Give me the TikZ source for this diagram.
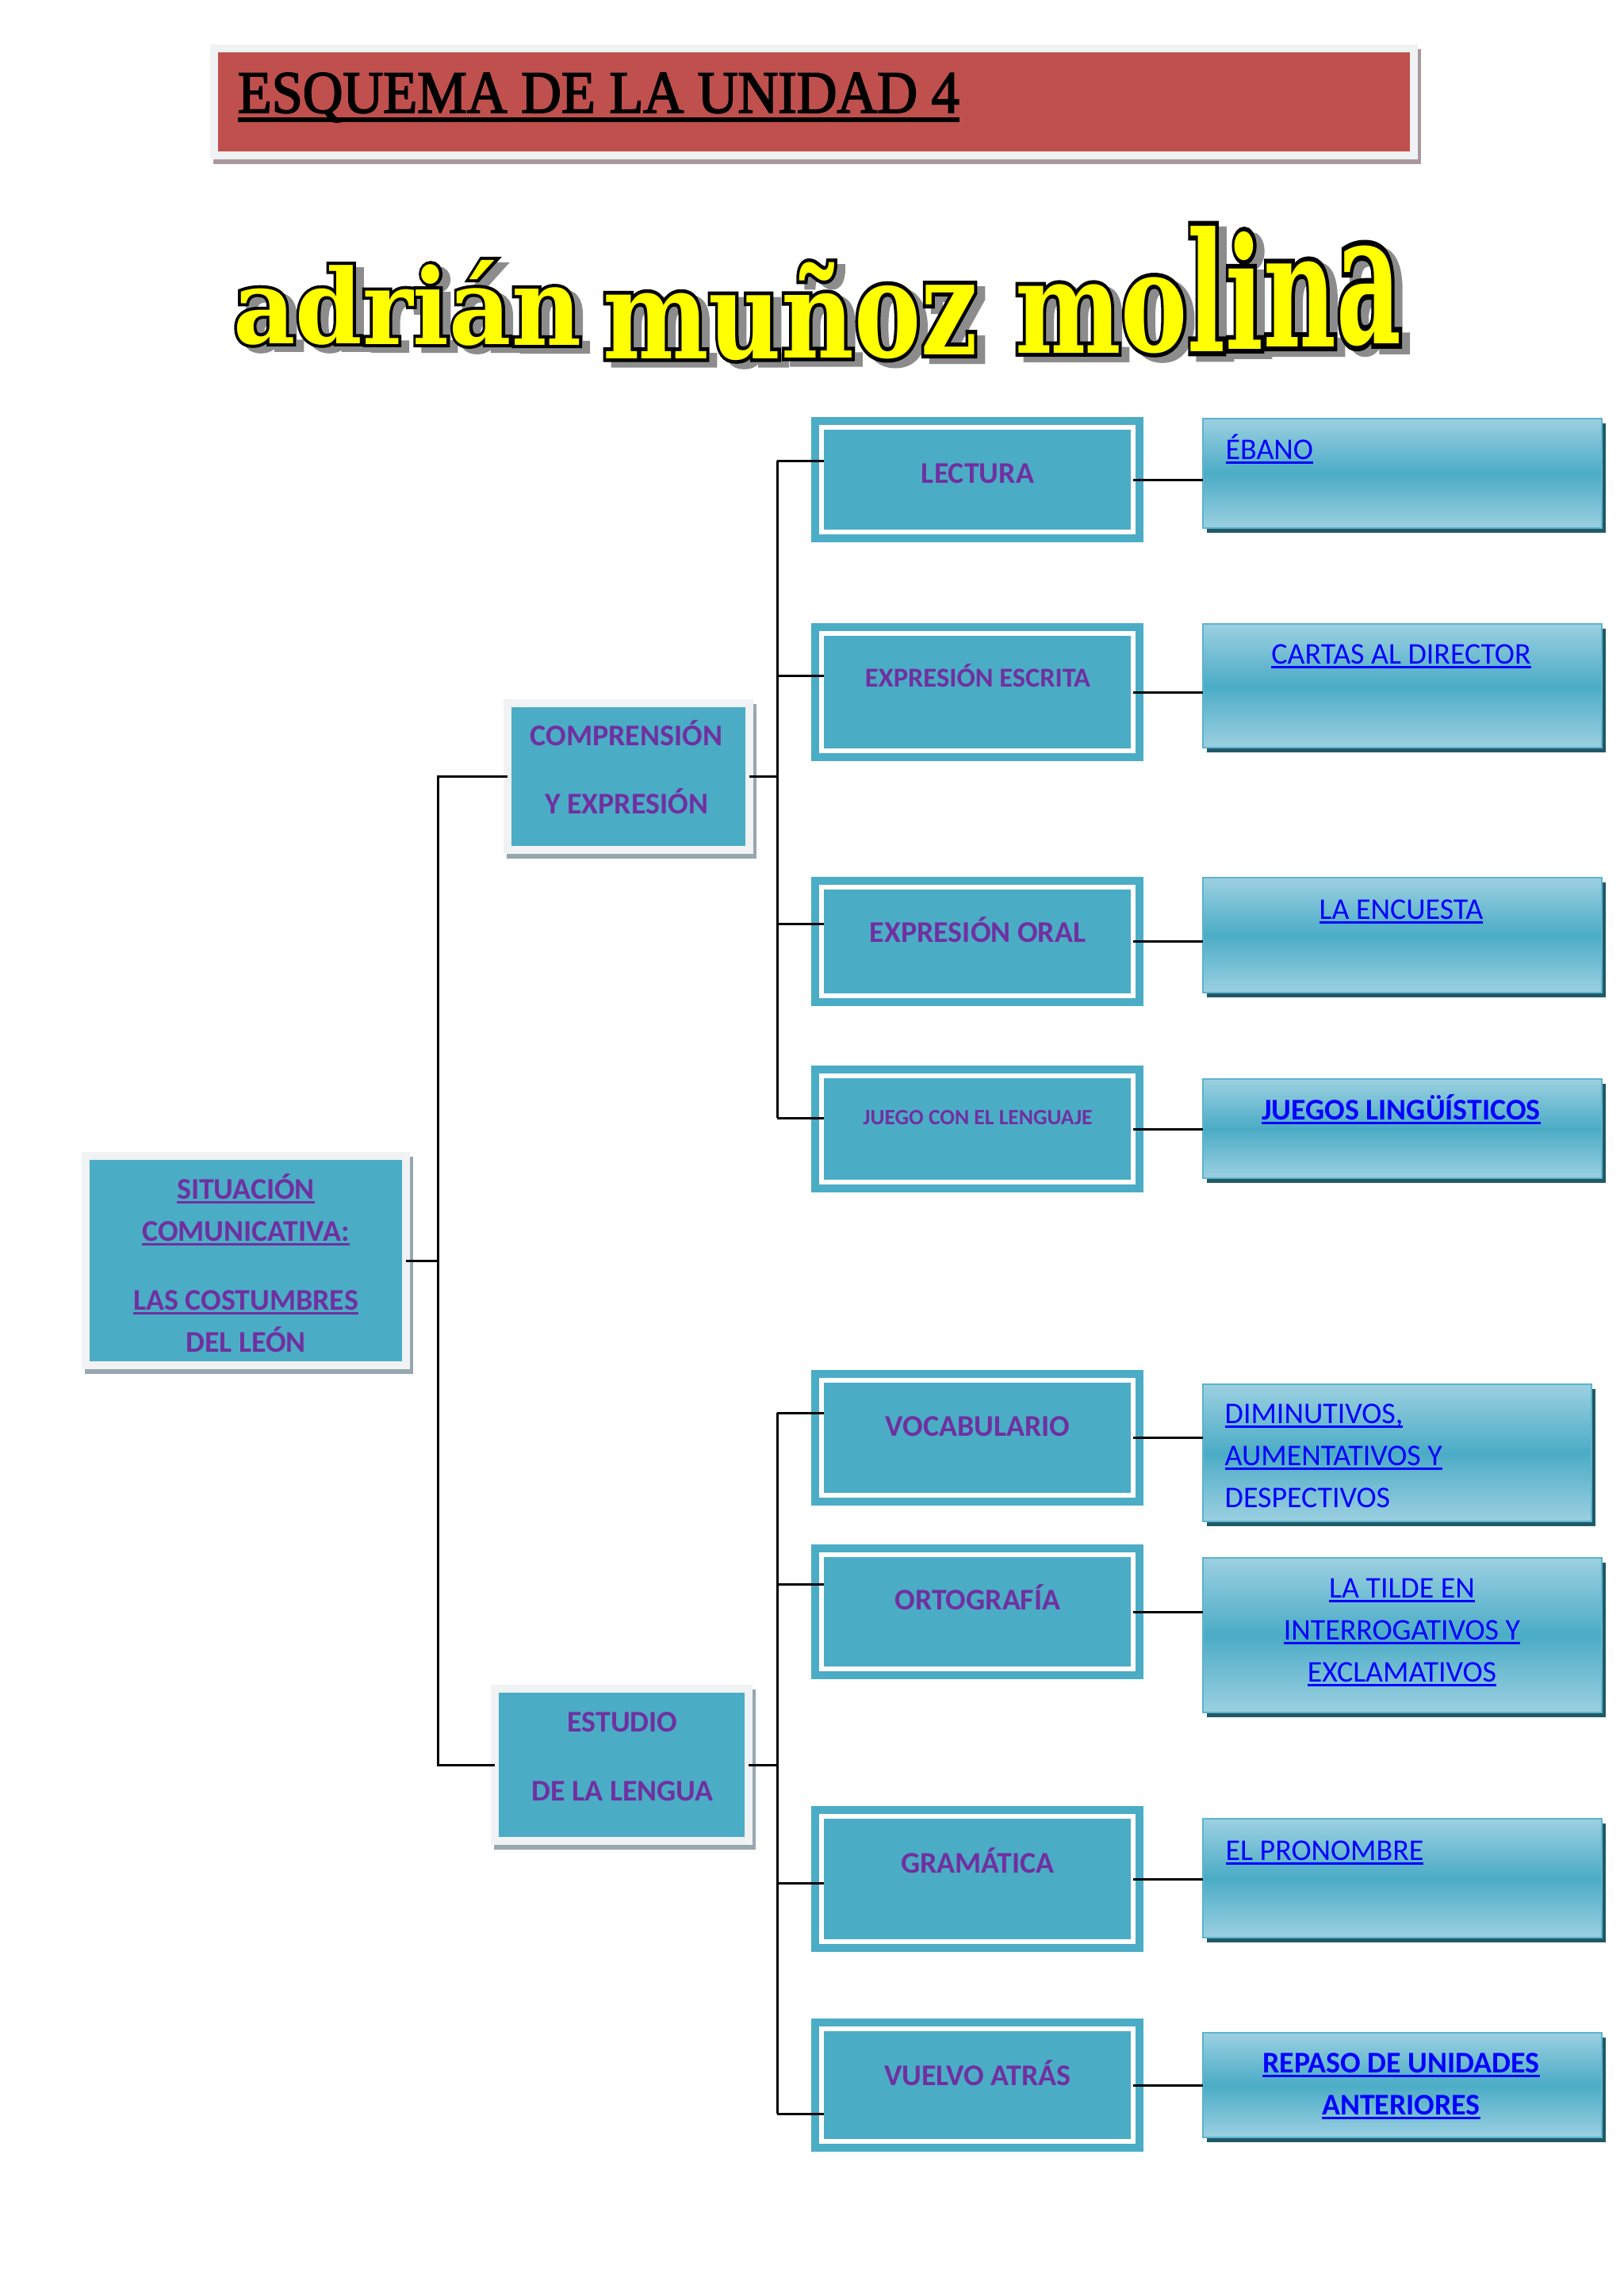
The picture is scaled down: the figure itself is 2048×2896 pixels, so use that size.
\documentclass[tikz,border=0pt]{standalone}
\usepackage{fontspec}
\usepackage{graphicx}
\setmainfont{Carlito}
\newfontfamily\titlefont[FakeBold=2.5]{Liberation Serif}
\newfontfamily\wafont{DejaVu Serif Bold}
\newfontfamily\waoutfont[FakeBold=6]{DejaVu Serif Bold}
\definecolor{aqua}{HTML}{4BACC6}
\definecolor{aqualight}{HTML}{9CD0E1}
\definecolor{aquaedge}{HTML}{5CB4CC}
\definecolor{deepteal}{HTML}{215968}
\definecolor{paleframe}{HTML}{F0F2F3}
\definecolor{greyshadow}{HTML}{97A7AF}
\definecolor{brickred}{HTML}{C0504D}
\definecolor{mauveshadow}{HTML}{A9979F}
\definecolor{purp}{HTML}{7030A0}
\definecolor{linkblue}{HTML}{0000FF}
\definecolor{wayellow}{HTML}{FFFF00}
\definecolor{wagrey}{HTML}{8C8C8C}
\newcommand\elevenpt{\fontsize{10.78pt}{15.08pt}\selectfont}
\newcommand\tenpt{\fontsize{9.8pt}{13.7pt}\selectfont}
\newcommand\eightpt{\fontsize{7.84pt}{11pt}\selectfont}
\newcommand\wasize{\fontsize{37pt}{40pt}\selectfont}
\newcommand\ulx[1]{\setbox0\hbox{#1}\rlap{\rule[-0.16em]{\wd0}{0.075em}}\box0}
\newcommand\wachain[1]{%
  \node[wa] (wa1) at (294,433) {#1\scalebox{0.93}[1.00]{a}};
  \node[wa] (wa2) at (wa1.base east |- 0,433) {#1\scalebox{0.93}[1.00]{d}};
  \node[wa] (wa3) at (wa2.base east |- 0,434) {#1\scalebox{0.93}[1.00]{r}};
  \node[wa] (wa4) at (wa3.base east |- 0,434) {#1\scalebox{0.93}[1.02]{i}};
  \node[wa] (wa5) at (wa4.base east |- 0,434) {#1\scalebox{0.93}[1.02]{á}};
  \node[wa] (wa6) at (wa5.base east |- 0,435) {#1\scalebox{0.93}[1.05]{n}};
  \node[wa] (wb1) at (760,452) {#1\scalebox{0.97}[1.19]{m}};
  \node[wa] (wb2) at (wb1.base east |- 0,452) {#1\scalebox{0.97}[1.18]{u}};
  \node[wa] (wb3) at (wb2.base east |- 0,451) {#1\scalebox{0.97}[1.17]{ñ}};
  \node[wa] (wb4) at (wb3.base east |- 0,450) {#1\scalebox{0.97}[1.30]{o}};
  \node[wa] (wb5) at (wb4.base east |- 0,447) {#1\scalebox{0.97}[1.30]{z}};
  \node[wa] (wc1) at (1280,445) {#1\scalebox{0.97}[1.25]{m}};
  \node[wa] (wc2) at (wc1.base east |- 0,443) {#1\scalebox{0.97}[1.35]{o}};
  \node[wa] (wc3) at (wc2.base east |- 0,443) {#1\scalebox{0.97}[1.60]{l}};
  \node[wa] (wc4) at (wc3.base east |- 0,440) {#1\scalebox{0.97}[1.50]{i}};
  \node[wa] (wc5) at (wc4.base east |- 0,437) {#1\scalebox{0.97}[1.55]{n}};
  \node[wa] (wc6) at (wc5.base east |- 0,433) {#1\scalebox{0.97}[1.78]{a}};
}
\begin{document}
\begin{tikzpicture}[x=0.01cm,y=-0.01cm,
  wa/.style={anchor=base west,inner sep=0pt,outer sep=0pt},
  conn/.style={draw=black,line width=0.03cm},
  lvlone/.style={rectangle,inner sep=0pt,outer sep=0pt,fill=aqua,draw=paleframe,line width=0.1cm,
    preaction={draw=greyshadow,fill=greyshadow,line width=0.1cm,transform canvas={xshift=0.04cm,yshift=-0.06cm}}},
  lvltwo/.style={rectangle,inner sep=0pt,outer sep=0pt,minimum width=3.93cm,fill=aqua,draw=white,line width=0.06cm,
    preaction={draw=aqua,line width=0.26cm}},
  lvlthree/.style={rectangle,inner sep=0pt,outer sep=0pt,minimum width=5.03cm,draw=aquaedge,line width=0.025cm,
    top color=aqualight,bottom color=aqualight,middle color=aqua,
    preaction={fill=deepteal,transform canvas={xshift=0.05cm,yshift=-0.06cm}}},
  tone/.style={font=\elevenpt\bfseries,text=purp,inner sep=0pt,anchor=base},
  ttwo/.style={font=\elevenpt\bfseries,text=purp,inner sep=0pt,anchor=base},
  tthree/.style={font=\elevenpt,text=linkblue,inner sep=0pt,anchor=base}]
\useasboundingbox (0,0) rectangle (2048,2896);
\fill[white] (0,0) rectangle (2048,2896);

% header
\node[lvlone,fill=brickred,preaction={draw=mauveshadow,fill=mauveshadow,line width=0.1cm,transform canvas={xshift=0.04cm,yshift=-0.06cm}},
  minimum width=15.13cm,minimum height=1.35cm] (header) at (1026.5,128.5) {};
\node[anchor=base west,inner sep=0pt,font=\titlefont\fontsize{21.5pt}{24pt}\selectfont] (title) at (299,142)
  {\scalebox{0.93}[1]{\ulx{ESQUEMA DE LA UNIDAD 4}}};

% word art name
\begin{scope}[shift={(10,7)}]
\wachain{\waoutfont\wasize\color{wagrey}}
\end{scope}
\wachain{\waoutfont\wasize\color{black}}
\wachain{\wafont\wasize\color{wayellow}}

% level one
\node[lvlone,minimum width=4.04cm,minimum height=2.64cm] (root) at (310,1590) {};
\node[lvlone,minimum width=3.05cm,minimum height=1.85cm] (comp) at (792.5,979.5) {};
\node[lvlone,minimum width=3.2cm,minimum height=1.92cm] (est) at (784,2226) {};
\node[tone] (root-t) at (310,1512) {\begin{tabular}[t]{@{}c@{}}\ulx{SITUACIÓN}\\ \ulx{COMUNICATIVA:}\\[9.67pt] \ulx{LAS COSTUMBRES}\\ DEL LEÓN\end{tabular}};
\node[tone] (comp-t) at (790,940) {\begin{tabular}[t]{@{}c@{}}COMPRENSIÓN\\[9.4pt] Y EXPRESIÓN\end{tabular}};
\node[tone] (est-t) at (785,2184) {\begin{tabular}[t]{@{}c@{}}ESTUDIO\\[9.9pt] DE LA LENGUA\end{tabular}};

% level two
\node[lvltwo,minimum height=1.32cm] (lect) at (1232.5,605) {};
\node[lvltwo,minimum height=1.48cm] (escr) at (1232.5,873) {};
\node[lvltwo,minimum height=1.37cm] (oral) at (1232.5,1187.5) {};
\node[lvltwo,minimum height=1.34cm] (juego) at (1232.5,1424) {};
\node[lvltwo,minimum height=1.45cm] (vocab) at (1232.5,1813.5) {};
\node[lvltwo,minimum height=1.44cm] (orto) at (1232.5,2033) {};
\node[lvltwo,minimum height=1.58cm] (gram) at (1232.5,2370) {};
\node[lvltwo,minimum height=1.42cm] (vuelvo) at (1232.5,2630) {};
\node[ttwo] (lect-t) at (1233,609) {LECTURA};
\node[ttwo,font=\tenpt\bfseries] (escr-t) at (1233,866) {EXPRESIÓN ESCRITA};
\node[ttwo] (oral-t) at (1233,1188) {EXPRESIÓN ORAL};
\node[ttwo,font=\eightpt\bfseries] (juego-t) at (1233,1418) {JUEGO CON EL LENGUAJE};
\node[ttwo] (vocab-t) at (1233,1811) {VOCABULARIO};
\node[ttwo] (orto-t) at (1233,2030) {ORTOGRAFÍA};
\node[ttwo] (gram-t) at (1233,2362) {GRAMÁTICA};
\node[ttwo] (vuelvo-t) at (1233,2630) {VUELVO ATRÁS};

% level three
\node[lvlthree,minimum height=1.38cm] (ebano) at (1768.5,597) {};
\node[lvlthree,minimum height=1.56cm] (cartas) at (1768.5,865) {};
\node[lvlthree,minimum height=1.45cm] (encuesta) at (1768.5,1179.5) {};
\node[lvlthree,minimum height=1.25cm] (juegos) at (1768.5,1423.5) {};
\node[lvlthree,minimum width=4.9cm,minimum height=1.73cm] (dimin) at (1762,1832.5) {};
\node[lvlthree,minimum height=1.95cm] (tilde) at (1768.5,2062.5) {};
\node[lvlthree,minimum height=1.5cm] (pron) at (1768.5,2369) {};
\node[lvlthree,minimum height=1.32cm] (repaso) at (1768.5,2630) {};
\node[tthree,anchor=base west] (ebano-t) at (1545,579) {\ulx{ÉBANO}};
\node[tthree] (cartas-t) at (1767,837) {\ulx{CARTAS AL DIRECTOR}};
\node[tthree] (encuesta-t) at (1767,1159) {\ulx{LA ENCUESTA}};
\node[tthree,font=\elevenpt\bfseries] (juegos-t) at (1767,1412) {\ulx{JUEGOS LINGÜÍSTICOS}};
\node[tthree,anchor=base west] (dimin-t) at (1544,1795) {\begin{tabular}[t]{@{}l@{}}\ulx{DIMINUTIVOS,}\\ \ulx{AUMENTATIVOS Y}\\ DESPECTIVOS\end{tabular}};
\node[tthree] (tilde-t) at (1768,2015) {\begin{tabular}[t]{@{}c@{}}\ulx{LA TILDE EN}\\ \ulx{INTERROGATIVOS Y}\\ \ulx{EXCLAMATIVOS}\end{tabular}};
\node[tthree,anchor=base west] (pron-t) at (1545,2346) {\ulx{EL PRONOMBRE}};
\node[tthree,font=\elevenpt\bfseries] (repaso-t) at (1767,2614) {\begin{tabular}[t]{@{}c@{}}\ulx{REPASO DE UNIDADES}\\ \ulx{ANTERIORES}\end{tabular}};

% connectors
\coordinate (lb) at (552,1590);
\coordinate (ucomp) at (980,979.5);
\coordinate (u1) at (980,581);
\coordinate (u2) at (980,852);
\coordinate (u3) at (980,1165);
\coordinate (u4) at (980,1410);
\coordinate (d1) at (980,1782);
\coordinate (d2) at (980,1998);
\coordinate (d3) at (980,2375);
\coordinate (d4) at (980,2666);
\draw[conn] (root.east) -- (lb);
\draw[conn] (comp.west) -| (lb) |- (est.west);
\draw[conn] (comp.east) -- (ucomp);
\draw[conn] (est.east) -- (est.east -| d1);
\draw[conn] (u1) -- (u4);
\draw[conn] (d1) -- (d4);
\draw[conn] (u1) -- ([xshift=0.03cm]u1 -| lect.west);
\draw[conn] (u2) -- ([xshift=0.03cm]u2 -| escr.west);
\draw[conn] (u3) -- ([xshift=0.03cm]u3 -| oral.west);
\draw[conn] (u4) -- ([xshift=0.03cm]u4 -| juego.west);
\draw[conn] (d1) -- ([xshift=0.03cm]d1 -| vocab.west);
\draw[conn] (d2) -- ([xshift=0.03cm]d2 -| orto.west);
\draw[conn] (d3) -- ([xshift=0.03cm]d3 -| gram.west);
\draw[conn] (d4) -- ([xshift=0.03cm]d4 -| vuelvo.west);
\draw[conn] (lect.east) -- (lect.east -| ebano.west);
\draw[conn] (escr.east) -- (escr.east -| cartas.west);
\draw[conn] (oral.east) -- (oral.east -| encuesta.west);
\draw[conn] (juego.east) -- (juego.east -| juegos.west);
\draw[conn] (vocab.east) -- (vocab.east -| dimin.west);
\draw[conn] (orto.east) -- (orto.east -| tilde.west);
\draw[conn] (gram.east) -- (gram.east -| pron.west);
\draw[conn] (vuelvo.east) -- (vuelvo.east -| repaso.west);
\end{tikzpicture}
\end{document}
